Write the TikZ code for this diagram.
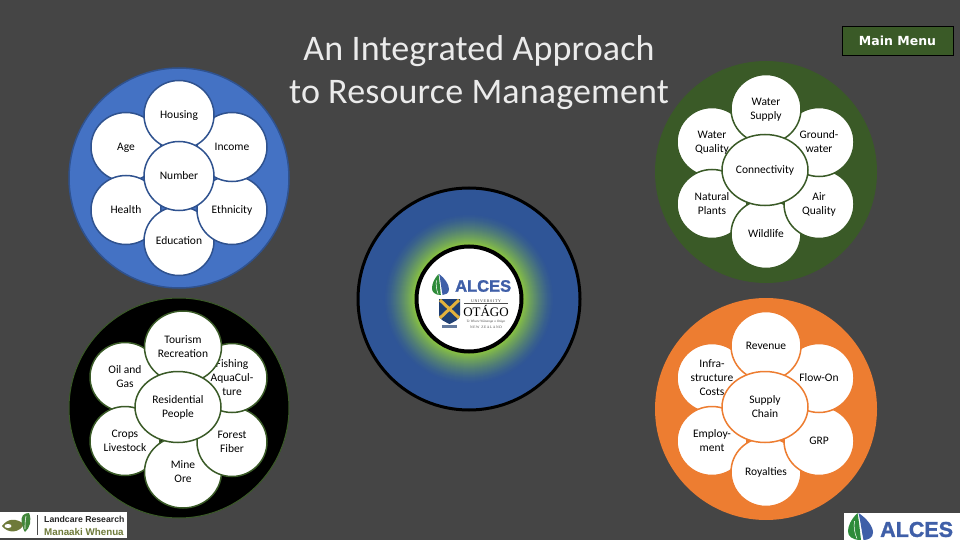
\documentclass[tikz,border=0pt]{standalone}
\usepackage{fontspec}
\setmainfont{Carlito}
\newfontfamily\titlefont[LetterSpace=0.4]{Carlito}
\newfontfamily\menufont{DejaVu Sans}
\newfontfamily\logofont{Liberation Sans}
\newfontfamily\logoheavy[FakeBold=1.5]{Liberation Sans Bold}
\newfontfamily\serifont{Liberation Serif}
\usetikzlibrary{shapes.geometric}
\definecolor{bgc}{HTML}{454545}
\definecolor{blueF}{HTML}{4472C4}
\definecolor{blueS}{HTML}{2F528F}
\definecolor{greenF}{HTML}{3A5A27}
\definecolor{orangeF}{HTML}{ED7D31}
\definecolor{haloB}{HTML}{2F5597}
\definecolor{haloG}{HTML}{8CC63F}
\definecolor{logoB}{HTML}{3F5FA8}
\definecolor{logoG}{HTML}{2E8B3A}
\definecolor{crestN}{HTML}{1F3F73}
\definecolor{crestY}{HTML}{E3B23C}
\definecolor{olive}{HTML}{6E7A3A}
\tikzset{
  basepetal/.style={ellipse,fill=white,draw=#1,line width=1.5pt,inner sep=0pt,align=center,
    text=black,font=\fontsize{11.5}{14}\selectfont,minimum width=70pt,minimum height=69pt},
  petal/.style={basepetal=#1,text depth=-2.5pt},
  widepetal/.style={basepetal=#1,minimum width=77pt,minimum height=72pt},
  hub/.style={basepetal=#1,minimum width=86pt,minimum height=71pt,text depth=-1pt},
  disc/.style={circle,inner sep=0pt,minimum size=222pt},
  logotext/.style={inner sep=0pt,text=logoB},
}
\newcommand{\leafmark}[4]{% x, y, w, h
  \begin{scope}[shift={(#1,#2)},xscale=#3,yscale=#4]
    \fill[logoB] (.42,0) .. controls (.75,.2) and (1,.5) .. (1,.72) .. controls (1,.92) and (.8,1) .. (.62,1) .. controls (.55,.7) and (.5,.3) .. (.42,0) -- cycle;
    \fill[logoG] (.38,0) .. controls (.1,.25) and (0,.5) .. (0,.68) .. controls (0,.85) and (.15,1) .. (.52,1) .. controls (.48,.7) and (.44,.3) .. (.38,0) -- cycle;
    \draw[white,line width=.5pt] (.26,.3) .. controls (.22,.5) and (.26,.75) .. (.36,.95);
  \end{scope}}
\begin{document}
\begin{tikzpicture}[x=1pt,y=-1pt]
\useasboundingbox (0,0) rectangle (960,540);
\fill[bgc] (0,0) rectangle (960,540);

% title and menu
\node[inner sep=0pt,align=center,text=white!92!black,font=\titlefont\fontsize{36}{43}\selectfont] (title) at (479,73) {An Integrated Approach\\to Resource Management};
\node[draw=black,fill=greenF,line width=1pt,minimum width=111pt,minimum height=29pt,inner sep=0pt,text=white,font=\menufont\bfseries\fontsize{12.5}{14}\selectfont] (menu) at (897.5,41) {\raisebox{-1.5pt}{Main Menu}};

% blue group
\node[disc,fill=blueF,draw=blueS,line width=1.5pt,minimum size=220pt] (people) at (179,178) {};
\node[petal=blueS] (age) at (126,147) {Age};
\node[petal=blueS] (health) at (126,210) {Health};
\node[petal=blueS] (education) at (179,241) {Education};
\node[petal=blueS] (ethnicity) at (232,210) {Ethnicity};
\node[petal=blueS] (income) at (232,147) {Income};
\node[petal=blueS] (housing) at (179,115) {Housing};
\node[petal=blueS] (number) at (179,176) {Number};

% black group
\node[disc,fill=black,draw=greenF,line width=1pt,minimum size=220pt] (land) at (179,408) {};
\node[petal=greenF] (oil) at (125,377) {Oil and\\Gas};
\node[petal=greenF] (crops) at (125,441) {Crops\\Livestock};
\node[widepetal=greenF] (mine) at (183,472) {Mine\\Ore};
\node[petal=greenF] (forest) at (232,442) {Forest\\Fiber};
\node[petal=greenF] (fishing) at (232,378) {Fishing\\AquaCul-\\ture};
\node[widepetal=greenF] (tourism) at (183,347) {Tourism\\Recreation};
\node[hub=greenF] (residential) at (178,407) {Residential\\People};

% green group
\node[disc,fill=greenF] (water) at (766,172) {};
\node[petal=greenF] (quality) at (712,142) {Water\\Quality};
\node[petal=greenF] (natural) at (712,204) {Natural\\Plants};
\node[petal=greenF] (wildlife) at (766,234) {Wildlife};
\node[petal=greenF] (air) at (819,204) {Air\\Quality};
\node[petal=greenF] (ground) at (819,142) {Ground-\\water};
\node[petal=greenF] (supply) at (766,109) {Water\\Supply};
\node[hub=greenF] (connect) at (765,170) {Connectivity};

% orange group
\node[disc,fill=orangeF] (economy) at (766,409) {};
\node[petal=orangeF] (infra) at (712,378) {Infra-\\structure\\Costs};
\node[petal=orangeF] (employ) at (712,441) {Employ-\\ment};
\node[petal=orangeF] (royal) at (766,472) {Royalties};
\node[petal=orangeF] (grp) at (819,441) {GRP};
\node[petal=orangeF] (flow) at (819,378) {Flow-On};
\node[petal=orangeF] (revenue) at (766,346) {Revenue};
\node[hub=orangeF] (chain) at (765,407) {Supply\\Chain};

% centre
\node[circle,inner sep=0pt,minimum size=222pt,fill=haloB,draw=black,line width=3pt] (halo) at (469,299) {};
\foreach \r in {86,85,...,54}{
  \pgfmathtruncatemacro\m{100*((86-\r)/32)^1.4}
  \fill[haloG!\m!haloB] (halo.center) circle[radius=\r pt];
}
\node[circle,inner sep=0pt,minimum size=105pt,fill=white,draw=black,line width=4pt] (hole) at (469,299) {};
\leafmark{432}{274}{17}{21}
\node[logotext,anchor=west,font=\logoheavy\fontsize{16.5}{17}\selectfont] (alcesA) at (455,286) {ALCES};
% Otago crest
\begin{scope}
  \fill[crestN] (439,299) -- (460,299) -- (460,315) .. controls (460,320) and (453,322) .. (449.5,324) .. controls (446,322) and (439,320) .. (439,315) -- cycle;
  \draw[crestY,line width=3pt] (440,300) -- (459,318) (459,300) -- (440,318);
  \fill[crestN!70!white] (442,325) rectangle (457,328);
\end{scope}
\draw[black!70,line width=.4pt] (464,303.5) -- (508,303.5);
\node[inner sep=0pt,anchor=center,text=black!80,font=\serifont\fontsize{4}{4}\selectfont] (uni) at (486,301) {U\,N\,I\,V\,E\,R\,S\,I\,T\,Y};
\node[inner sep=0pt,anchor=center,text=black,font=\serifont\fontsize{13}{13}\selectfont] (otago) at (486,311) {OTÁGO};
\node[inner sep=0pt,anchor=center,text=black!70,font=\serifont\itshape\fontsize{3.4}{4}\selectfont] (maori) at (486,322) {Te Whare Wānanga o Otāgo};
\node[inner sep=0pt,anchor=center,text=black!70,font=\serifont\fontsize{3.6}{4}\selectfont] (nz) at (486,327) {N\,E\,W\; Z\,E\,A\,L\,A\,N\,D};

% Landcare logo
\fill[white] (0,512) rectangle (127,538);
\fill[olive] (2,526) .. controls (8,518) and (16,518) .. (24,524) .. controls (20,533) and (8,534) .. (2,526) -- cycle;
\fill[white] (8,526) ellipse (3.5pt and 2pt);
\fill[logoG!70!olive] (22,523) .. controls (20,516) and (24,513) .. (29,513) .. controls (32,520) and (30,528) .. (25,532) .. controls (23,530) and (23,526) .. (22,523) -- cycle;
\draw[white,line width=.6pt] (26,516) .. controls (25,521) and (25,525) .. (25,529);
\draw[black!70,line width=.6pt] (37,515) -- (37,535);
\node[inner sep=0pt,anchor=west,text=black!85,font=\logofont\bfseries\fontsize{8.7}{10}\selectfont] (landcare) at (44,519) {Landcare Research};
\node[inner sep=0pt,anchor=west,text=olive,font=\logofont\bfseries\fontsize{9.8}{10}\selectfont] (manaaki) at (44,532) {Manaaki Whenua};

% ALCES logo, bottom right
\fill[white] (844,513) rectangle (960,540);
\leafmark{848}{513}{25}{27}
\node[logotext,anchor=west,font=\logoheavy\fontsize{21.5}{22}\selectfont] (alcesB) at (880,529.5) {ALCES};
\end{tikzpicture}
\end{document}
